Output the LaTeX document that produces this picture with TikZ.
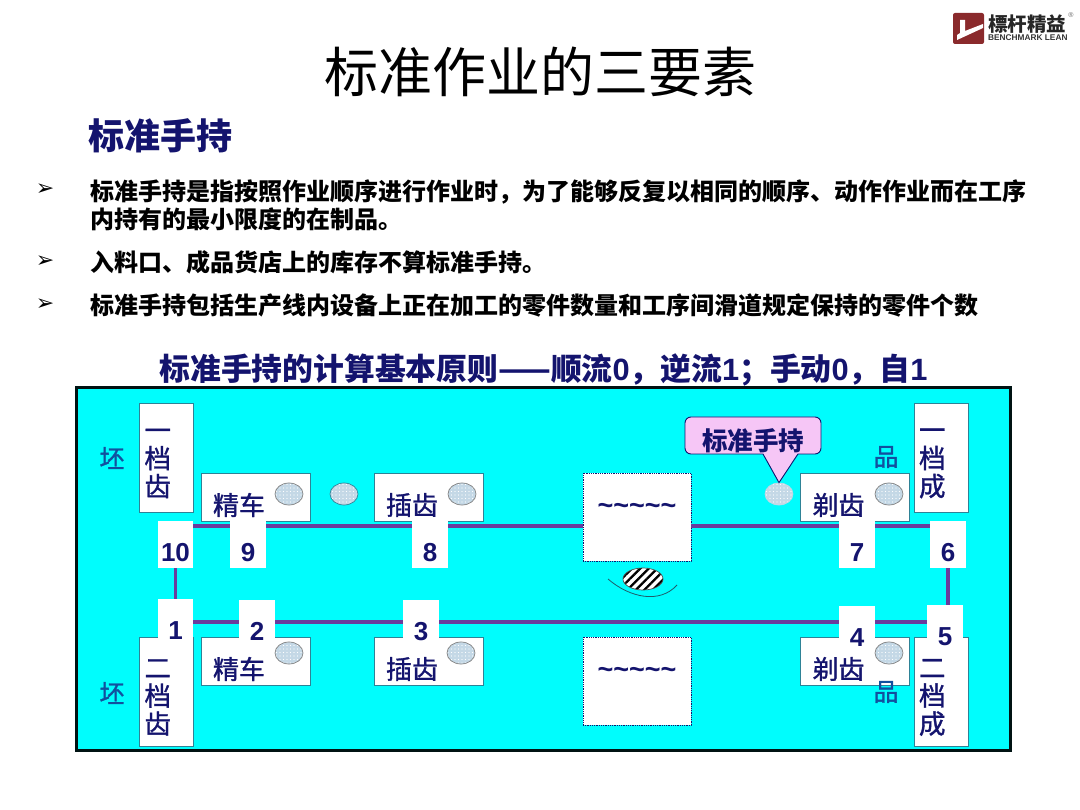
\documentclass[tikz,border=0pt]{standalone}
\usepackage{fontspec}
\setmainfont{Noto Sans CJK SC}
\newfontfamily\midfont[FakeBold=1.2]{Noto Sans CJK SC}
\newfontfamily\numfont{Liberation Sans}
\newfontfamily\markfont{DejaVu Sans}
\usetikzlibrary{arrows.meta, positioning, calc, shapes.geometric, patterns.meta}
\definecolor{panelcyan}{HTML}{00FDFD}
\definecolor{navytxt}{HTML}{14146E}
\definecolor{bluetxt}{HTML}{12509E}
\definecolor{edgeteal}{HTML}{2E8296}
\definecolor{linepurple}{HTML}{6A3C9C}
\definecolor{calloutpink}{HTML}{F6C6F6}
\definecolor{partfill}{HTML}{C4D8E6}
\definecolor{logored}{HTML}{8A2A2C}
\newcommand{\fsz}[1]{\fontsize{#1}{#1}\selectfont}
\newcommand{\lowtxt}[1]{\raisebox{-8pt}[\height][\depth]{#1}}
\newcommand{\hightxt}[1]{\raisebox{8pt}[\height][\depth]{#1}}
\newcommand{\tallstack}[3]{\raisebox{-6pt}[\height][\depth]{\parbox{44pt}{#1\\#2\\#3}}}
\tikzset{
  tallbox/.style={draw=edgeteal, line width=0.7pt, fill=white, inner xsep=5pt, inner ysep=0pt, minimum height=109pt, text width=44pt, align=left, text=navytxt, font=\midfont\fontsize{26.5}{28}\selectfont},
  machbox/.style={draw=edgeteal, line width=0.7pt, fill=white, inner xsep=12pt, inner ysep=0pt, minimum height=48pt, text width=85pt, align=left, text=navytxt, font=\midfont\fsz{26}},
  numbox/.style={fill=white, inner sep=0pt, minimum width=36pt, minimum height=47pt, text=navytxt, font=\numfont\bfseries\fsz{26}},
  waitbox/.style={draw=navytxt, densely dotted, line width=0.8pt, fill=white, inner sep=0pt, minimum width=108pt, minimum height=88pt, text=navytxt, font=\numfont\bfseries\fsz{27}},
  partdot/.style={ellipse, draw=#1, line width=0.7pt, inner sep=0pt, minimum width=28pt, minimum height=22pt, preaction={fill=partfill}, pattern={Dots[radius=0.7pt, distance=3.5pt]}, pattern color=white},
  partdot/.default=gray,
  flowline/.style={draw=linepurple, line width=3.2pt},
  sidetxt/.style={text=bluetxt, font=\midfont\fsz{25}, inner sep=0pt},
  pointtxt/.style={anchor=west, inner sep=0pt, align=left, font=\bfseries\fontsize{24}{28}\selectfont},
  markdot/.style={inner sep=0pt, font=\markfont\bfseries\fsz{22}}
}
\begin{document}
\begin{tikzpicture}[x=1pt, y=-1pt]
\useasboundingbox (0,0) rectangle (1080,810);
% heading and logo
\node[inner sep=0pt, font=\fsz{54}] (title) at (540,72) {标准作业的三要素};
\node[inner sep=0pt, text=navytxt, font=\bfseries\fsz{36}, anchor=west] (subtitle) at (88,136) {标准手持};
\fill[logored, rounded corners=2pt] (953,13) rectangle (984,44);
\fill[white] (960,20) -- (965,20) -- (965,31) -- (983,24) -- (983,28) -- (957,40) -- (957,35) -- (960,33) -- cycle;
\node[inner sep=0pt, text=black!85, font=\bfseries\fsz{19.5}, anchor=west] (logoname) at (988,24) {標杆精益};
\node[inner sep=0pt, text=black!80, font=\numfont\bfseries\fsz{8.3}, anchor=west] (logosub) at (988,38) {BENCHMARK LEAN};
\node[inner sep=0pt, text=black!60, font=\numfont\fsz{7}] (logomark) at (1071,15) {®};
% points
\node[markdot] (m1) at (45,190) {➢};
\node[markdot] (m2) at (45,262) {➢};
\node[markdot] (m3) at (45,305) {➢};
\node[pointtxt] (p1) at (90,205) {标准手持是指按照作业顺序进行作业时，为了能够反复以相同的顺序、动作作业而在工序\\内持有的最小限度的在制品。};
\node[pointtxt] (p2) at (90,262) {入料口、成品货店上的库存不算标准手持。};
\node[pointtxt] (p3) at (90,305) {标准手持包括生产线内设备上正在加工的零件数量和工序间滑道规定保持的零件个数};
\node[inner sep=0pt, text=navytxt, font=\bfseries\fsz{30.8}] (rule) at (543.5,370) {标准手持的计算基本原则——顺流{\numfont 0}，逆流{\numfont 1}；手动{\numfont 0}，自{\numfont 1}};
% panel
\draw[fill=panelcyan, draw=black!85!teal, line width=3pt] (76,388) rectangle (1010,750);
% stations
\node[tallbox] (stocka) at (166.5,457.5) {\tallstack{一}{档}{齿}};
\node[tallbox] (stockb) at (166.5,691.5) {\tallstack{二}{档}{齿}};
\node[tallbox] (finisha) at (941,457.5) {\tallstack{一}{档}{成}};
\node[tallbox] (finishb) at (941,691.5) {\tallstack{二}{档}{成}};
\node[machbox] (turna) at (255.5,497) {\lowtxt{精车}};
\node[machbox] (turnb) at (255.5,661) {\lowtxt{精车}};
\node[machbox] (slota) at (428.5,497) {\lowtxt{插齿}};
\node[machbox] (slotb) at (428.5,661) {\lowtxt{插齿}};
\node[machbox] (shava) at (855,497) {\lowtxt{剃齿}};
\node[machbox] (shavb) at (855,661) {\lowtxt{剃齿}};
\node[waitbox] (waita) at (637,517) {\hightxt{\textasciitilde\textasciitilde\textasciitilde\textasciitilde\textasciitilde}};
\node[waitbox] (waitb) at (637,681) {\hightxt{\textasciitilde\textasciitilde\textasciitilde\textasciitilde\textasciitilde}};
\node[sidetxt] (rawa) at (112,458) {坯};
\node[sidetxt] (rawb) at (112,693) {坯};
\node[sidetxt] (gooda) at (886,457) {品};
\node[sidetxt] (goodb) at (886,692) {品};
% numbers
\node[numbox, minimum width=35pt] (n10) at (175.5,544.5) {\lowtxt{10}};
\node[numbox] (n9) at (248,544.5) {\lowtxt{9}};
\node[numbox] (n8) at (430,544.5) {\lowtxt{8}};
\node[numbox] (n7) at (857,544.5) {\lowtxt{7}};
\node[numbox] (n6) at (948,544.5) {\lowtxt{6}};
\node[numbox, minimum width=35pt] (n1) at (175.5,622.5) {\lowtxt{1}};
\node[numbox] (n2) at (257,623.5) {\lowtxt{2}};
\node[numbox] (n3) at (421,623.5) {\lowtxt{3}};
\node[numbox] (n4) at (857,629.5) {\lowtxt{4}};
\node[numbox] (n5) at (945,628.5) {\lowtxt{5}};
% lines
\coordinate (toprail) at (0,526);
\coordinate (lowrail) at (0,622);
\draw[flowline] (n10.east |- toprail) -- (n9.west |- toprail);
\draw[flowline] (n9.east |- toprail) -- (n8.west |- toprail);
\draw[flowline] (n8.east |- toprail) -- (waita.west |- toprail);
\draw[flowline] (waita.east |- toprail) -- (n7.west |- toprail);
\draw[flowline] (n7.east |- toprail) -- (n6.west |- toprail);
\draw[flowline] (n1.east |- lowrail) -- (n2.west |- lowrail);
\draw[flowline] (n2.east |- lowrail) -- (n3.west |- lowrail);
\draw[flowline] (n3.east |- lowrail) -- (n4.west |- lowrail);
\draw[flowline] (n4.east |- lowrail) -- (n5.west |- lowrail);
\draw[flowline] (n10.south) -- (n1.north);
\draw[flowline] (n6.south) -- (n6.south |- n5.north);
% parts
\node[partdot] (pa) at (289,494) {};
\node[partdot=edgeteal] (pb) at (344,494) {};
\node[partdot] (pc) at (462,494) {};
\node[partdot] (pd) at (889,494) {};
\node[partdot] (pe) at (289,653) {};
\node[partdot] (pf) at (461,653) {};
\node[partdot] (pg) at (889,653) {};
\node[partdot=partfill] (hold) at (779,494) {};
% callout
\node[draw=navytxt, line width=0.9pt, fill=calloutpink, rounded corners=6pt, inner sep=0pt, minimum width=136pt, minimum height=37pt, text=navytxt, font=\bfseries\fsz{25.5}] (tag) at (753,435.5) {\raisebox{-5pt}[\height][\depth]{标准手持}};
\fill[calloutpink] (763,453) -- (hold.north) -- (798,453) -- cycle;
\draw[navytxt, line width=0.9pt] (763,454) -- (hold.north) -- (798,454);
% moving part
\node[ellipse, draw=black!70, line width=0.7pt, inner sep=0pt, minimum width=40pt, minimum height=22pt, preaction={fill=white}, pattern={Lines[angle=45, distance=6pt, line width=2.4pt]}, pattern color=black] (walker) at (643,579) {};
\draw[edgeteal!70!black, line width=0.8pt] (608,579) .. controls (630,598) and (660,604) .. (677,585);
\end{tikzpicture}
\end{document}
